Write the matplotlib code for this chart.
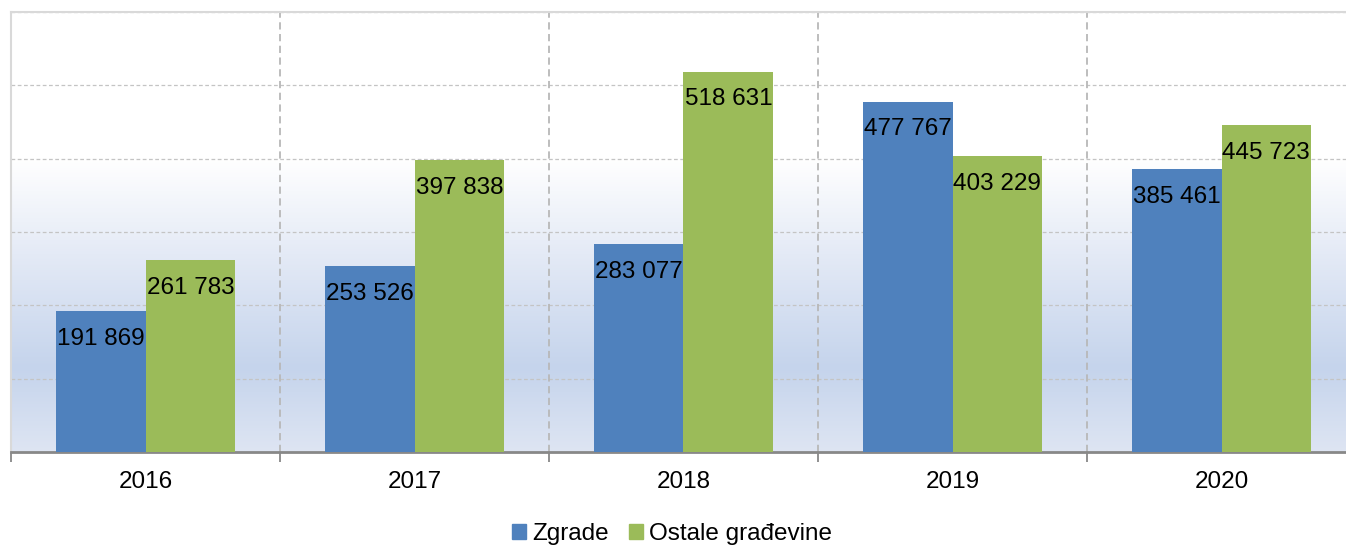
import numpy as np
import matplotlib
matplotlib.use("Agg")
import matplotlib.pyplot as plt
from matplotlib.colors import LinearSegmentedColormap
from matplotlib.patches import Patch

plt.rcParams['font.family'] = ['Liberation Sans', 'DejaVu Sans']

years = ["2016", "2017", "2018", "2019", "2020"]
zgrade = [191869, 253526, 283077, 477767, 385461]
ostale = [261783, 397838, 518631, 403229, 445723]
series_names = ["Zgrade", "Ostale građevine"]
colors = ["#4F81BD", "#9BBB59"]

W, H = 1346, 553
fig = plt.figure(figsize=(W / 100, H / 100), dpi=100)
ax = fig.add_axes([11 / W, (H - 452) / H, 1345 / W, 440 / H])

# background gradient
cmap = LinearSegmentedColormap.from_list("bg", [
    (0.0, (222/255, 229/255, 243/255)),
    (0.19, (197/255, 212/255, 236/255)),
    (0.45, (228/255, 234/255, 246/255)),
    (0.667, (1, 1, 1)),
    (1.0, (1, 1, 1)),
])
grad = np.linspace(0, 1, 512).reshape(-1, 1)
ax.imshow(grad, aspect="auto", cmap=cmap, origin="lower",
          extent=[0, 1, 0, 1], transform=ax.transAxes, zorder=0)

x = np.arange(len(years))
bw = 1 / 3
b1 = ax.bar(x - bw / 2, zgrade, bw, color=colors[0], zorder=3, label=series_names[0])
b2 = ax.bar(x + bw / 2, ostale, bw, color=colors[1], zorder=3, label=series_names[1])

ax.set_xlim(-0.5, 4.5)
ax.set_ylim(0, 600000)

def fmt(v):
    return f"{v:,}".replace(",", " ")

for bars, vals in ((b1, zgrade), (b2, ostale)):
    for b, v in zip(bars, vals):
        ax.annotate(fmt(v), (b.get_x() + b.get_width() / 2, v),
                    xytext=(0, -20), textcoords="offset points",
                    ha="center", va="center", fontsize=17.5, color="black", zorder=4)

# gridlines
for yv in range(100000, 600001, 100000):
    ax.axhline(yv, color="#c4c4c4", lw=0.9, ls=(0, (3, 2)), zorder=1)
for xv in np.arange(0.5, 4.5, 1):
    ax.axvline(xv, color="#b8b8b8", lw=1.3, ls=(0, (4, 2.5)), zorder=1)

ax.set_yticks([])
ax.set_xticks(x)
ax.set_xticklabels(years, fontsize=17.5)
ax.set_xticks(np.arange(-0.5, 5.0, 1), minor=True)
ax.tick_params(axis="x", which="major", length=0, pad=14)
ax.tick_params(axis="x", which="minor", length=7, width=1.3, color="#888888")

for s in ("top", "left", "right"):
    ax.spines[s].set_color("#d9d9d9")
    ax.spines[s].set_linewidth(1.5)
ax.spines["bottom"].set_color("#888888")
ax.spines["bottom"].set_linewidth(2)

handles = [Patch(color=colors[0], label=series_names[0]),
           Patch(color=colors[1], label=series_names[1])]
fig.legend(handles=handles, loc="center", bbox_to_anchor=(672 / W, 1 - 534 / H),
           ncol=2, frameon=False, fontsize=17.5, handlelength=0.6, handleheight=0.6,
           handletextpad=0.25, columnspacing=0.8)

fig.savefig("out.png", dpi=100)
